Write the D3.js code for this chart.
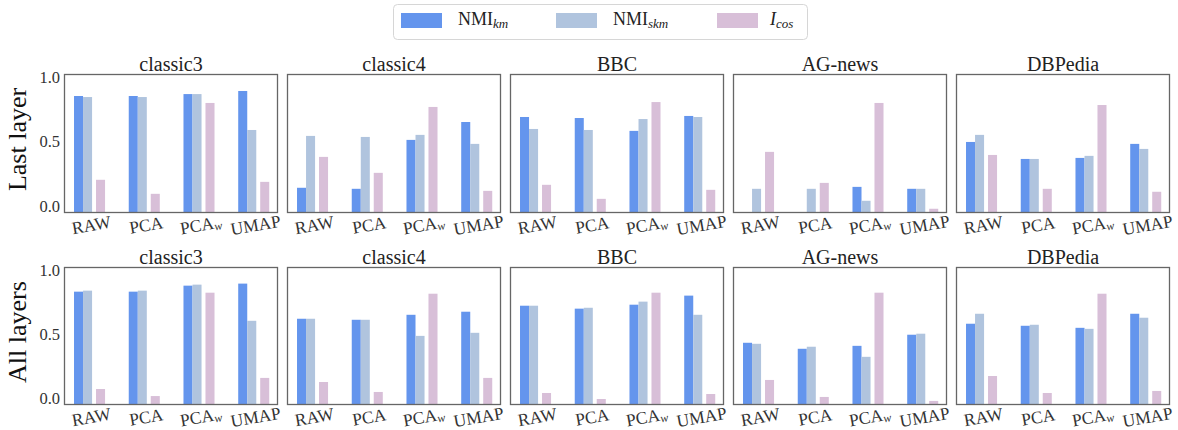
<!DOCTYPE html>
<html>
<head>
<meta charset="utf-8">
<script src="https://cdn.jsdelivr.net/npm/d3@7/dist/d3.min.js"></script>
<style>
  html, body { margin: 0; padding: 0; background: #fff; }
  svg { display: block; font-family: "Liberation Serif", "Times New Roman", serif; }
</style>
</head>
<body>
<svg id="chart" width="1178" height="430"></svg>
<script>
// ---------- data ----------
const datasets = ["classic3", "classic4", "BBC", "AG-news", "DBPedia"];
const methods = ["RAW", "PCA", "PCA_w", "UMAP"];
const rowLabels = ["Last layer", "All layers"];
const yTicks = [0.0, 0.5, 1.0];
const yDomain = [-0.06, 1.02];

// Last layer (rows: datasets, cols: methods)
const nmiKmLast = [
  [0.849, 0.849, 0.864, 0.888],
  [0.136, 0.128, 0.508, 0.647],
  [0.686, 0.678, 0.578, 0.694],
  [-0.06, -0.06, 0.143, 0.128],
  [0.492, 0.360, 0.368, 0.477]
];
const nmiSkmLast = [
  [0.841, 0.841, 0.864, 0.585],
  [0.539, 0.531, 0.547, 0.477],
  [0.593, 0.585, 0.670, 0.686],
  [0.128, 0.128, 0.035, 0.128],
  [0.547, 0.360, 0.384, 0.438]
];
const icosLast = [
  [0.198, 0.089, 0.795, 0.182],
  [0.376, 0.252, 0.764, 0.112],
  [0.159, 0.050, 0.802, 0.120],
  [0.415, 0.174, 0.795, -0.027],
  [0.391, 0.128, 0.779, 0.105]
];

// All layers
const nmiKmAll = [
  [0.827, 0.827, 0.874, 0.890],
  [0.615, 0.607, 0.646, 0.670],
  [0.717, 0.694, 0.725, 0.796],
  [0.427, 0.380, 0.403, 0.490],
  [0.576, 0.560, 0.544, 0.654]
];
const nmiSkmAll = [
  [0.835, 0.835, 0.882, 0.599],
  [0.615, 0.607, 0.481, 0.505],
  [0.717, 0.701, 0.749, 0.646],
  [0.419, 0.396, 0.317, 0.498],
  [0.654, 0.568, 0.536, 0.623]
];
const icosAll = [
  [0.065, 0.010, 0.819, 0.152],
  [0.120, 0.042, 0.811, 0.152],
  [0.034, -0.013, 0.819, 0.026],
  [0.136, 0.003, 0.819, -0.028],
  [0.167, 0.034, 0.811, 0.050]
];

const seriesNames = ["km", "skm", "cos"];
const seriesColors = ["#6495ED", "#B0C4DE", "#D8BFD8"];
const rowsData = [
  [nmiKmLast, nmiSkmLast, icosLast],
  [nmiKmAll, nmiSkmAll, icosAll]
];

// ---------- layout ----------
const svg = d3.select("#chart");
const panelW = 214, panelStep = 223, panelLeft0 = 64;
const rowTop = [74, 267], rowH = [139, 138];
// bar offsets relative to group index (in x-units)
const barOffsets = [[-0.247, -0.082], [-0.082, 0.083], [0.155, 0.32]];

const x = d3.scaleLinear().domain([-0.43, 3.48]).range([0, panelW]);

rowsData.forEach((series, r) => {
  const y = d3.scaleLinear().domain(yDomain).range([rowTop[r] + rowH[r], rowTop[r]]);
  const base = y(yDomain[0]);

  datasets.forEach((ds, d) => {
    const left = panelLeft0 + panelStep * d;
    const g = svg.append("g").attr("transform", `translate(${left},0)`);

    // bars
    series.forEach((arr, s) => {
      g.selectAll(null)
        .data(arr[d].map((v, i) => ({ v, i })).filter(o => o.v > yDomain[0]))
        .enter().append("rect")
        .attr("x", o => x(o.i + barOffsets[s][0]))
        .attr("width", o => x(o.i + barOffsets[s][1]) - x(o.i + barOffsets[s][0]))
        .attr("y", o => y(o.v))
        .attr("height", o => base - y(o.v))
        .attr("fill", seriesColors[s]);
    });

    // frame
    g.append("rect")
      .attr("x", 0.5).attr("y", rowTop[r] + 0.5)
      .attr("width", panelW - 1).attr("height", rowH[r] - 1)
      .attr("fill", "none").attr("stroke", "#666").attr("stroke-width", 1.3);

    // title
    g.append("text")
      .attr("x", panelW / 2).attr("y", rowTop[r] - 3.5)
      .attr("text-anchor", "middle")
      .attr("font-size", 20).attr("fill", "#222")
      .text(ds);

    // x tick labels
    methods.forEach((m, i) => {
      const t = g.append("text")
        .attr("transform", `translate(${x(i + 0.07)},${base + 12}) rotate(-10)`)
        .attr("text-anchor", "middle")
        .attr("dominant-baseline", "central")
        .attr("font-size", 17.5).attr("fill", "#333");
      if (m.includes("_")) {
        const [a, b] = m.split("_");
        t.append("tspan").text(a);
        t.append("tspan").attr("font-size", 12).attr("font-style", "italic")
          .attr("dy", 4).text(b);
      } else {
        t.text(m);
      }
    });

    // y tick labels on first panel
    if (d === 0) {
      g.selectAll(null).data(yTicks).enter().append("text")
        .attr("x", -4).attr("y", v => y(v) + 1)
        .attr("text-anchor", "end")
        .attr("dominant-baseline", "central")
        .attr("font-size", 16.5).attr("fill", "#333")
        .text(v => d3.format(".1f")(v));
    }
  });

  // row label
  svg.append("text")
    .attr("transform", `translate(25.5,${rowTop[r] + rowH[r] / 2 - 4}) rotate(-90)`)
    .attr("text-anchor", "middle")
    .attr("font-size", 26).attr("fill", "#111")
    .text(rowLabels[r]);
});

// ---------- legend ----------
const legend = svg.append("g");
legend.append("rect")
  .attr("x", 393.5).attr("y", 4.5).attr("width", 414).attr("height", 35)
  .attr("rx", 4).attr("fill", "#fff").attr("stroke", "#d6d6d6");
const swX = [401, 556, 717];
const labX = [458, 613, 770];
const legendMain = ["NMI", "NMI", ""];
const legendSub = ["km", "skm", "cos"];
seriesNames.forEach((s, k) => {
  legend.append("rect")
    .attr("x", swX[k]).attr("y", 13).attr("width", 41).attr("height", 15)
    .attr("fill", seriesColors[k]);
  const t = legend.append("text")
    .attr("x", labX[k]).attr("y", 25)
    .attr("font-size", 18).attr("fill", "#222");
  if (k < 2) {
    t.append("tspan").text(legendMain[k]);
  } else {
    t.append("tspan").attr("font-style", "italic").text("I");
  }
  t.append("tspan").attr("font-size", 13).attr("font-style", "italic")
    .attr("dy", 3).text(legendSub[k]);
});
</script>
</body>
</html>
